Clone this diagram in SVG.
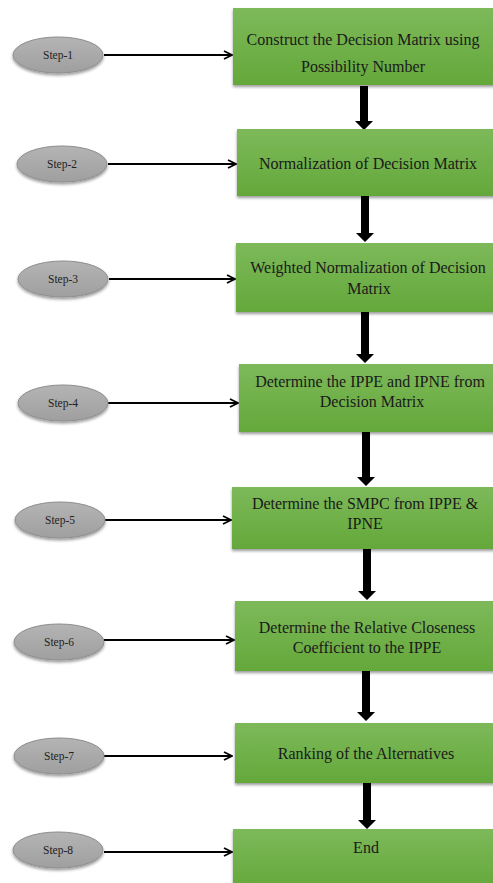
<svg xmlns="http://www.w3.org/2000/svg" width="493" height="883" viewBox="0 0 493 883">
<defs>
<linearGradient id="g" x1="0" y1="0" x2="0" y2="1">
<stop offset="0" stop-color="#7db95a"/>
<stop offset="1" stop-color="#64a83a"/>
</linearGradient>
<linearGradient id="e" x1="0" y1="0" x2="0" y2="1">
<stop offset="0" stop-color="#b4b4b4"/>
<stop offset="1" stop-color="#9f9f9f"/>
</linearGradient>
<filter id="sh" x="-10%" y="-10%" width="120%" height="130%">
<feGaussianBlur in="SourceAlpha" stdDeviation="1.5"/>
<feOffset dx="0" dy="2" result="b"/>
<feComponentTransfer><feFuncA type="linear" slope="0.4"/></feComponentTransfer>
<feMerge><feMergeNode/><feMergeNode in="SourceGraphic"/></feMerge>
</filter>
<marker id="oa" viewBox="0 0 10 10" refX="9" refY="5" markerWidth="10" markerHeight="10" markerUnits="userSpaceOnUse" orient="auto">
<path d="M1,1 L9,5 L1,9" fill="none" stroke="#000" stroke-width="1.8"/>
</marker>
</defs>
<style>
.box{fill:url(#g);filter:url(#sh)}
.ell{fill:url(#e);stroke:#8e8e8e;stroke-width:1;filter:url(#sh)}
.t{font-family:"Liberation Serif","DejaVu Serif",serif;font-size:16px;fill:#1a1a1a;text-anchor:middle}
.s{font-family:"Liberation Serif","DejaVu Serif",serif;font-size:11.5px;fill:#222;text-anchor:middle}
.h{stroke:#000;stroke-width:2;fill:none;marker-end:url(#oa)}
.v{fill:#000}
</style>
<g id="connectors">
<line class="h" x1="104" y1="55" x2="232" y2="55"/>
<line class="h" x1="108" y1="164" x2="236" y2="164"/>
<line class="h" x1="109" y1="279" x2="235" y2="279"/>
<line class="h" x1="108" y1="403" x2="238" y2="403"/>
<line class="h" x1="105" y1="520" x2="231" y2="520"/>
<line class="h" x1="104" y1="640" x2="234" y2="640"/>
<line class="h" x1="104" y1="756" x2="232" y2="756"/>
<line class="h" x1="104" y1="852" x2="232" y2="852"/>
<path class="v" d="M360,86 H368 V121 H373 L364,130 L355,121 H360 Z"/>
<path class="v" d="M361,196 H369 V233 H374 L365,242 L356,233 H361 Z"/>
<path class="v" d="M361,312 H369 V354 H374 L365,363 L356,354 H361 Z"/>
<path class="v" d="M362,432 H370 V477 H375 L366,486 L357,477 H362 Z"/>
<path class="v" d="M363,549 H371 V591 H376 L367,600 L358,591 H363 Z"/>
<path class="v" d="M362,671 H370 V712 H375 L366,721 L357,712 H362 Z"/>
<path class="v" d="M363,783 H371 V820 H376 L367,829 L358,820 H363 Z"/>
</g>
<g id="step1"><ellipse class="ell" cx="58" cy="55" rx="45" ry="18"/><text class="s" x="58" y="59">Step-1</text></g>
<g id="step2"><ellipse class="ell" cx="62" cy="164" rx="45" ry="18"/><text class="s" x="62" y="168">Step-2</text></g>
<g id="step3"><ellipse class="ell" cx="63" cy="279" rx="45" ry="18"/><text class="s" x="63" y="283">Step-3</text></g>
<g id="step4"><ellipse class="ell" cx="63" cy="403" rx="45" ry="18"/><text class="s" x="63" y="407">Step-4</text></g>
<g id="step5"><ellipse class="ell" cx="60" cy="520" rx="45" ry="18"/><text class="s" x="60" y="524">Step-5</text></g>
<g id="step6"><ellipse class="ell" cx="59" cy="642" rx="45" ry="18"/><text class="s" x="59" y="646">Step-6</text></g>
<g id="step7"><ellipse class="ell" cx="59" cy="756" rx="45" ry="18"/><text class="s" x="59" y="760">Step-7</text></g>
<g id="step8"><ellipse class="ell" cx="58" cy="850" rx="45" ry="18"/><text class="s" x="58" y="854">Step-8</text></g>
<g id="box1"><rect class="box" x="233" y="8" width="265" height="77"/><text class="t" x="363" y="45">Construct the Decision Matrix using</text><text class="t" x="363" y="72">Possibility Number</text></g>
<g id="box2"><rect class="box" x="237" y="129" width="261" height="67"/><text class="t" x="368" y="169">Normalization of Decision Matrix</text></g>
<g id="box3"><rect class="box" x="236" y="243" width="262" height="69"/><text class="t" x="368" y="273">Weighted Normalization of Decision</text><text class="t" x="369" y="294">Matrix</text></g>
<g id="box4"><rect class="box" x="239" y="364" width="259" height="68"/><text class="t" x="370" y="387">Determine the IPPE and IPNE from</text><text class="t" x="372" y="407">Decision Matrix</text></g>
<g id="box5"><rect class="box" x="232" y="487" width="266" height="62"/><text class="t" x="365" y="509">Determine the SMPC from IPPE &amp;</text><text class="t" x="365" y="529">IPNE</text></g>
<g id="box6"><rect class="box" x="235" y="601" width="263" height="70"/><text class="t" x="367" y="633">Determine the Relative Closeness</text><text class="t" x="367" y="653">Coefficient to the IPPE</text></g>
<g id="box7"><rect class="box" x="235" y="723" width="263" height="60"/><text class="t" x="366" y="759">Ranking of the Alternatives</text></g>
<g id="box8"><rect class="box" x="233" y="829" width="265" height="60"/><text class="t" x="366" y="853">End</text></g>
</svg>
